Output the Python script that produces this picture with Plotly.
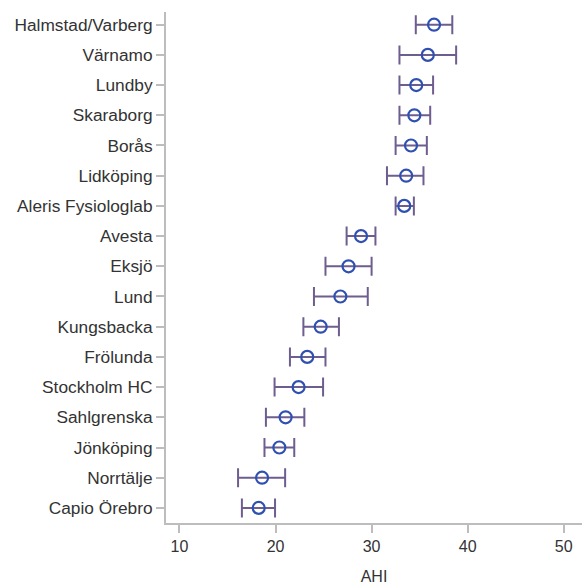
import plotly.graph_objects as go

# AHI per centre: point estimate with lower / upper confidence limits
centres = [
    "Halmstad/Varberg", "Värnamo", "Lundby", "Skaraborg", "Borås", "Lidköping",
    "Aleris Fysiologlab", "Avesta", "Eksjö", "Lund", "Kungsbacka", "Frölunda",
    "Stockholm HC", "Sahlgrenska", "Jönköping", "Norrtälje", "Capio Örebro",
]
ahi = [36.5, 35.85, 34.65, 34.45, 34.1, 33.6, 33.4, 28.9, 27.6, 26.75,
       24.7, 23.3, 22.4, 21.05, 20.4, 18.6, 18.25]
ci_low = [34.6, 32.9, 32.9, 32.9, 32.5, 31.6, 32.5, 27.4, 25.2, 24.0,
          22.9, 21.5, 19.9, 19.0, 18.85, 16.1, 16.5]
ci_high = [38.4, 38.8, 36.4, 36.1, 35.75, 35.4, 34.4, 30.4, 30.0, 29.6,
           26.6, 25.2, 24.95, 23.0, 21.95, 21.0, 19.95]
x_ticks = [10, 20, 30, 40, 50]

err_plus = [h - m for h, m in zip(ci_high, ahi)]
err_minus = [m - l for m, l in zip(ahi, ci_low)]
ypos = list(range(len(centres)))

fig = go.Figure(
    go.Scatter(
        x=ahi,
        y=ypos,
        mode="markers",
        marker=dict(symbol="circle-open", size=12, color="#2f50b0",
                    line=dict(width=2.2, color="#2f50b0")),
        error_x=dict(type="data", symmetric=False, array=err_plus,
                     arrayminus=err_minus, color="#6e5e90", thickness=2,
                     width=9.5),
        showlegend=False,
    )
)

axis_col = "#bdbdbd"
fig.update_layout(
    width=582, height=587,
    margin=dict(l=166, r=0, t=12, b=64),
    plot_bgcolor="white", paper_bgcolor="white",
    font=dict(family="Liberation Sans, Arial, sans-serif", size=15, color="#333"),
    xaxis=dict(
        range=[8.6, 51.9], tickvals=x_ticks, showgrid=False, zeroline=False,
        showline=True, linecolor=axis_col, linewidth=2,
        ticks="outside", ticklen=8, tickwidth=2, tickcolor=axis_col,
        tickfont=dict(size=16),
        title=dict(text="AHI", font=dict(size=16), standoff=17),
    ),
    yaxis=dict(
        range=[16.5, -0.42], tickvals=ypos, ticktext=centres,
        showgrid=False, zeroline=False,
        showline=True, linecolor=axis_col, linewidth=2,
        ticks="outside", ticklen=8, tickwidth=2, tickcolor=axis_col,
        tickfont=dict(size=17.3),
    ),
)

fig.write_html("out.html")
